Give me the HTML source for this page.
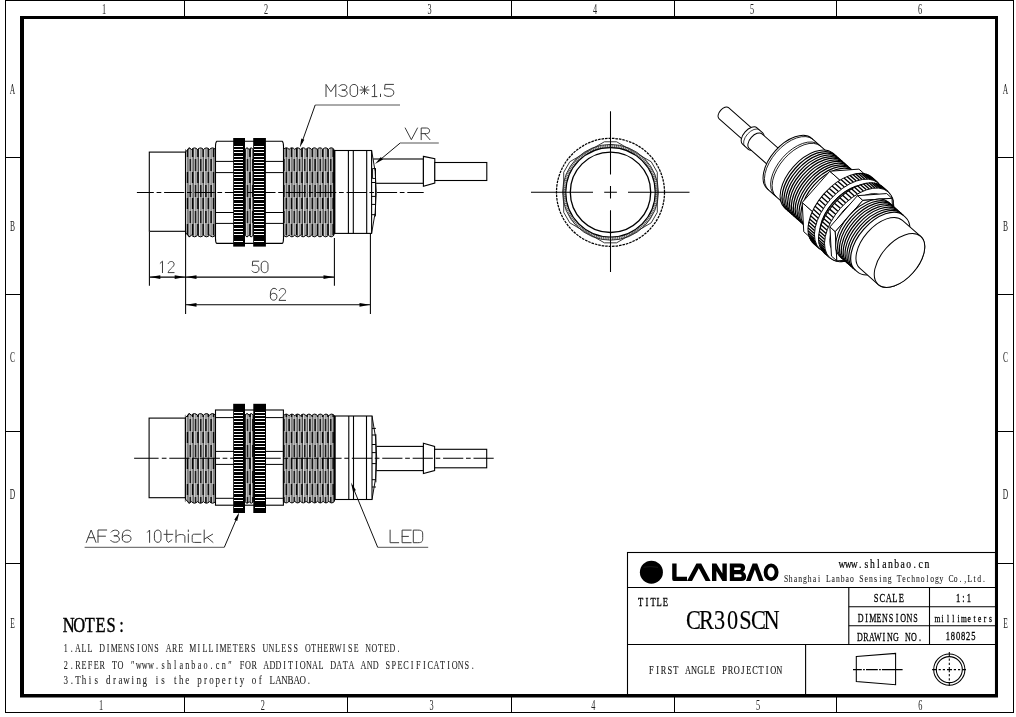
<!DOCTYPE html>
<html><head><meta charset="utf-8"><style>
html,body{margin:0;padding:0;background:#fff;width:1016px;height:717px;overflow:hidden}
svg{display:block;filter:grayscale(1)}
</style></head><body>
<svg width="1016" height="717" viewBox="0 0 1016 717">
<defs><pattern id="thr" patternUnits="userSpaceOnUse" width="5.2" height="26" x="0.5" y="3">
<rect width="5.2" height="26" fill="#939393"/>
<rect x="0" y="0" width="0.7" height="26" fill="#3a3a3a"/>
<rect x="1.0" y="0" width="0.8" height="26" fill="#fafafa"/>
<rect x="3.5" y="0" width="0.6" height="26" fill="#e6e6e6"/>
<rect x="1.9" y="0" width="1.4" height="12" fill="#000"/>
<rect x="4.2" y="13" width="1.0" height="11" fill="#050505"/>
<rect x="0" y="13" width="0.6" height="11" fill="#050505"/>
</pattern></defs>
<rect width="1016" height="717" fill="#fff"/>
<rect x="5.5" y="0.5" width="1008" height="712" fill="none" stroke="#000" stroke-width="1" />
<path d="M20 16 H998 V697.6 H20 Z M24 19 V694 H995 V19 Z" fill="#000" fill-rule="evenodd"/>
<line x1="184.5" y1="0" x2="184.5" y2="16" stroke="#000" stroke-width="1" />
<line x1="184.5" y1="697" x2="184.5" y2="712" stroke="#000" stroke-width="1" />
<line x1="347.5" y1="0" x2="347.5" y2="16" stroke="#000" stroke-width="1" />
<line x1="347.5" y1="697" x2="347.5" y2="712" stroke="#000" stroke-width="1" />
<line x1="511.5" y1="0" x2="511.5" y2="16" stroke="#000" stroke-width="1" />
<line x1="511.5" y1="697" x2="511.5" y2="712" stroke="#000" stroke-width="1" />
<line x1="674.5" y1="0" x2="674.5" y2="16" stroke="#000" stroke-width="1" />
<line x1="674.5" y1="697" x2="674.5" y2="712" stroke="#000" stroke-width="1" />
<line x1="836.5" y1="0" x2="836.5" y2="16" stroke="#000" stroke-width="1" />
<line x1="836.5" y1="697" x2="836.5" y2="712" stroke="#000" stroke-width="1" />
<line x1="5" y1="157.5" x2="20" y2="157.5" stroke="#000" stroke-width="1" />
<line x1="998" y1="157.5" x2="1013" y2="157.5" stroke="#000" stroke-width="1" />
<line x1="5" y1="294.5" x2="20" y2="294.5" stroke="#000" stroke-width="1" />
<line x1="998" y1="294.5" x2="1013" y2="294.5" stroke="#000" stroke-width="1" />
<line x1="5" y1="431.5" x2="20" y2="431.5" stroke="#000" stroke-width="1" />
<line x1="998" y1="431.5" x2="1013" y2="431.5" stroke="#000" stroke-width="1" />
<line x1="5" y1="563.5" x2="20" y2="563.5" stroke="#000" stroke-width="1" />
<line x1="998" y1="563.5" x2="1013" y2="563.5" stroke="#000" stroke-width="1" />
<text x="104" y="14" font-family="Liberation Serif" font-size="15" fill="#222" text-anchor="middle" transform-origin="104 14" style="transform:scaleX(0.55)">1</text>
<text x="266" y="14" font-family="Liberation Serif" font-size="15" fill="#222" text-anchor="middle" transform-origin="266 14" style="transform:scaleX(0.55)">2</text>
<text x="429.5" y="14" font-family="Liberation Serif" font-size="15" fill="#222" text-anchor="middle" transform-origin="429.5 14" style="transform:scaleX(0.55)">3</text>
<text x="595" y="14" font-family="Liberation Serif" font-size="15" fill="#222" text-anchor="middle" transform-origin="595 14" style="transform:scaleX(0.55)">4</text>
<text x="752" y="14" font-family="Liberation Serif" font-size="15" fill="#222" text-anchor="middle" transform-origin="752 14" style="transform:scaleX(0.55)">5</text>
<text x="920" y="14" font-family="Liberation Serif" font-size="15" fill="#222" text-anchor="middle" transform-origin="920 14" style="transform:scaleX(0.55)">6</text>
<text x="101" y="710" font-family="Liberation Serif" font-size="15" fill="#222" text-anchor="middle" transform-origin="101 710" style="transform:scaleX(0.55)">1</text>
<text x="262.7" y="710" font-family="Liberation Serif" font-size="15" fill="#222" text-anchor="middle" transform-origin="262.7 710" style="transform:scaleX(0.55)">2</text>
<text x="431.6" y="710" font-family="Liberation Serif" font-size="15" fill="#222" text-anchor="middle" transform-origin="431.6 710" style="transform:scaleX(0.55)">3</text>
<text x="593.4" y="710" font-family="Liberation Serif" font-size="15" fill="#222" text-anchor="middle" transform-origin="593.4 710" style="transform:scaleX(0.55)">4</text>
<text x="758" y="710" font-family="Liberation Serif" font-size="15" fill="#222" text-anchor="middle" transform-origin="758 710" style="transform:scaleX(0.55)">5</text>
<text x="920.2" y="710" font-family="Liberation Serif" font-size="15" fill="#222" text-anchor="middle" transform-origin="920.2 710" style="transform:scaleX(0.55)">6</text>
<text x="12.5" y="94" font-family="Liberation Serif" font-size="15" fill="#222" text-anchor="middle" style="transform:scaleX(0.5)" transform-origin="12.5 89">A</text>
<text x="1005.5" y="94" font-family="Liberation Serif" font-size="15" fill="#222" text-anchor="middle" style="transform:scaleX(0.5)" transform-origin="1005.5 89">A</text>
<text x="12.5" y="231" font-family="Liberation Serif" font-size="15" fill="#222" text-anchor="middle" style="transform:scaleX(0.5)" transform-origin="12.5 226">B</text>
<text x="1005.5" y="231" font-family="Liberation Serif" font-size="15" fill="#222" text-anchor="middle" style="transform:scaleX(0.5)" transform-origin="1005.5 226">B</text>
<text x="12.5" y="362" font-family="Liberation Serif" font-size="15" fill="#222" text-anchor="middle" style="transform:scaleX(0.5)" transform-origin="12.5 357">C</text>
<text x="1005.5" y="362" font-family="Liberation Serif" font-size="15" fill="#222" text-anchor="middle" style="transform:scaleX(0.5)" transform-origin="1005.5 357">C</text>
<text x="12.5" y="499" font-family="Liberation Serif" font-size="15" fill="#222" text-anchor="middle" style="transform:scaleX(0.5)" transform-origin="12.5 494">D</text>
<text x="1005.5" y="499" font-family="Liberation Serif" font-size="15" fill="#222" text-anchor="middle" style="transform:scaleX(0.5)" transform-origin="1005.5 494">D</text>
<text x="12.5" y="628" font-family="Liberation Serif" font-size="15" fill="#222" text-anchor="middle" style="transform:scaleX(0.5)" transform-origin="12.5 623">E</text>
<text x="1005.5" y="628" font-family="Liberation Serif" font-size="15" fill="#222" text-anchor="middle" style="transform:scaleX(0.5)" transform-origin="1005.5 623">E</text>
<rect x="149.3" y="152.1" width="36.2" height="79.2" fill="#fff" stroke="#000" stroke-width="1.1" />
<path d="M185.5 149.5 Q188.5 146.3 191.5 149.5 Q194.5 146.3 197.5 149.5 Q200.5 146.3 203.5 149.5 Q206.5 146.3 209.5 149.5 Q212.5 146.3 215.5 149.5 L215.5 235.2 Q212.5 238.4 209.5 235.2 Q206.5 238.4 203.5 235.2 Q200.5 238.4 197.5 235.2 Q194.5 238.4 191.5 235.2 Q188.5 238.4 185.5 235.2 Z" fill="url(#thr)" stroke="#000" stroke-width="1.0" />
<path d="M185.2 146 H189.7 L185.7 151.7 Z M185.2 238.7 H189.7 L185.7 233 Z" fill="#fff" stroke="none" stroke-width="0" />
<path d="M189.7 147.8 L185.7 151.7 M189.7 236.9 L185.7 233" fill="none" stroke="#000" stroke-width="1" />
<path d="M216.7 141.3 H282.3 Q283.5 142.3 283.5 146.3 V238.4 Q283.5 242.4 282.3 243.4 H216.7 Q215.5 242.4 215.5 238.4 V146.3 Q215.5 142.3 216.7 141.3 Z" fill="#fff" stroke="#000" stroke-width="1.1" />
<line x1="216" y1="161.4" x2="283" y2="161.4" stroke="#000" stroke-width="1" />
<line x1="216" y1="172.6" x2="283" y2="172.6" stroke="#000" stroke-width="1" />
<line x1="216" y1="212.5" x2="283" y2="212.5" stroke="#000" stroke-width="1" />
<line x1="216" y1="223.4" x2="283" y2="223.4" stroke="#000" stroke-width="1" />
<path d="M245 149.5 Q247.05 146.3 249.1 149.5 Q251.15 146.3 253.2 149.5 L253.2 235.2 Q251.15 238.4 249.1 235.2 Q247.05 238.4 245 235.2 Z" fill="url(#thr)" stroke="#000" stroke-width="1.0" />
<rect x="233.2" y="138" width="11.8" height="108.6" fill="#000" stroke="none" stroke-width="0" />
<rect x="234" y="146" width="9" height="1.1" fill="#fff" stroke="none" stroke-width="0" shape-rendering="crispEdges"/>
<rect x="234" y="149" width="9" height="1.1" fill="#fff" stroke="none" stroke-width="0" shape-rendering="crispEdges"/>
<rect x="234" y="152" width="9" height="1.1" fill="#fff" stroke="none" stroke-width="0" shape-rendering="crispEdges"/>
<rect x="234" y="156" width="9" height="1.1" fill="#fff" stroke="none" stroke-width="0" shape-rendering="crispEdges"/>
<rect x="234" y="159" width="9" height="1.1" fill="#fff" stroke="none" stroke-width="0" shape-rendering="crispEdges"/>
<rect x="234" y="162" width="9" height="1.1" fill="#fff" stroke="none" stroke-width="0" shape-rendering="crispEdges"/>
<rect x="234" y="165" width="9" height="1.1" fill="#fff" stroke="none" stroke-width="0" shape-rendering="crispEdges"/>
<rect x="234" y="168" width="9" height="1.1" fill="#fff" stroke="none" stroke-width="0" shape-rendering="crispEdges"/>
<rect x="234" y="171" width="9" height="1.1" fill="#fff" stroke="none" stroke-width="0" shape-rendering="crispEdges"/>
<rect x="234" y="174" width="9" height="1.1" fill="#fff" stroke="none" stroke-width="0" shape-rendering="crispEdges"/>
<rect x="234" y="177" width="9" height="1.1" fill="#fff" stroke="none" stroke-width="0" shape-rendering="crispEdges"/>
<rect x="234" y="181" width="9" height="1.1" fill="#fff" stroke="none" stroke-width="0" shape-rendering="crispEdges"/>
<rect x="234" y="184" width="9" height="1.1" fill="#fff" stroke="none" stroke-width="0" shape-rendering="crispEdges"/>
<rect x="234" y="187" width="9" height="1.1" fill="#fff" stroke="none" stroke-width="0" shape-rendering="crispEdges"/>
<rect x="234" y="190" width="9" height="1.1" fill="#fff" stroke="none" stroke-width="0" shape-rendering="crispEdges"/>
<rect x="234" y="193" width="9" height="1.1" fill="#fff" stroke="none" stroke-width="0" shape-rendering="crispEdges"/>
<rect x="234" y="196" width="9" height="1.1" fill="#fff" stroke="none" stroke-width="0" shape-rendering="crispEdges"/>
<rect x="234" y="199" width="9" height="1.1" fill="#fff" stroke="none" stroke-width="0" shape-rendering="crispEdges"/>
<rect x="234" y="203" width="9" height="1.1" fill="#fff" stroke="none" stroke-width="0" shape-rendering="crispEdges"/>
<rect x="234" y="206" width="9" height="1.1" fill="#fff" stroke="none" stroke-width="0" shape-rendering="crispEdges"/>
<rect x="234" y="209" width="9" height="1.1" fill="#fff" stroke="none" stroke-width="0" shape-rendering="crispEdges"/>
<rect x="234" y="212" width="9" height="1.1" fill="#fff" stroke="none" stroke-width="0" shape-rendering="crispEdges"/>
<rect x="234" y="215" width="9" height="1.1" fill="#fff" stroke="none" stroke-width="0" shape-rendering="crispEdges"/>
<rect x="234" y="218" width="9" height="1.1" fill="#fff" stroke="none" stroke-width="0" shape-rendering="crispEdges"/>
<rect x="234" y="221" width="9" height="1.1" fill="#fff" stroke="none" stroke-width="0" shape-rendering="crispEdges"/>
<rect x="234" y="224" width="9" height="1.1" fill="#fff" stroke="none" stroke-width="0" shape-rendering="crispEdges"/>
<rect x="234" y="228" width="9" height="1.1" fill="#fff" stroke="none" stroke-width="0" shape-rendering="crispEdges"/>
<rect x="234" y="231" width="9" height="1.1" fill="#fff" stroke="none" stroke-width="0" shape-rendering="crispEdges"/>
<rect x="234" y="234" width="9" height="1.1" fill="#fff" stroke="none" stroke-width="0" shape-rendering="crispEdges"/>
<rect x="234" y="241" width="9" height="1.1" fill="#fff" stroke="none" stroke-width="0" shape-rendering="crispEdges"/>
<rect x="253.2" y="138" width="12.7" height="108.6" fill="#000" stroke="none" stroke-width="0" />
<rect x="254" y="146" width="10" height="1.1" fill="#fff" stroke="none" stroke-width="0" shape-rendering="crispEdges"/>
<rect x="254" y="149" width="10" height="1.1" fill="#fff" stroke="none" stroke-width="0" shape-rendering="crispEdges"/>
<rect x="254" y="152" width="10" height="1.1" fill="#fff" stroke="none" stroke-width="0" shape-rendering="crispEdges"/>
<rect x="254" y="156" width="10" height="1.1" fill="#fff" stroke="none" stroke-width="0" shape-rendering="crispEdges"/>
<rect x="254" y="159" width="10" height="1.1" fill="#fff" stroke="none" stroke-width="0" shape-rendering="crispEdges"/>
<rect x="254" y="162" width="10" height="1.1" fill="#fff" stroke="none" stroke-width="0" shape-rendering="crispEdges"/>
<rect x="254" y="165" width="10" height="1.1" fill="#fff" stroke="none" stroke-width="0" shape-rendering="crispEdges"/>
<rect x="254" y="168" width="10" height="1.1" fill="#fff" stroke="none" stroke-width="0" shape-rendering="crispEdges"/>
<rect x="254" y="171" width="10" height="1.1" fill="#fff" stroke="none" stroke-width="0" shape-rendering="crispEdges"/>
<rect x="254" y="174" width="10" height="1.1" fill="#fff" stroke="none" stroke-width="0" shape-rendering="crispEdges"/>
<rect x="254" y="177" width="10" height="1.1" fill="#fff" stroke="none" stroke-width="0" shape-rendering="crispEdges"/>
<rect x="254" y="181" width="10" height="1.1" fill="#fff" stroke="none" stroke-width="0" shape-rendering="crispEdges"/>
<rect x="254" y="184" width="10" height="1.1" fill="#fff" stroke="none" stroke-width="0" shape-rendering="crispEdges"/>
<rect x="254" y="187" width="10" height="1.1" fill="#fff" stroke="none" stroke-width="0" shape-rendering="crispEdges"/>
<rect x="254" y="190" width="10" height="1.1" fill="#fff" stroke="none" stroke-width="0" shape-rendering="crispEdges"/>
<rect x="254" y="193" width="10" height="1.1" fill="#fff" stroke="none" stroke-width="0" shape-rendering="crispEdges"/>
<rect x="254" y="196" width="10" height="1.1" fill="#fff" stroke="none" stroke-width="0" shape-rendering="crispEdges"/>
<rect x="254" y="199" width="10" height="1.1" fill="#fff" stroke="none" stroke-width="0" shape-rendering="crispEdges"/>
<rect x="254" y="203" width="10" height="1.1" fill="#fff" stroke="none" stroke-width="0" shape-rendering="crispEdges"/>
<rect x="254" y="206" width="10" height="1.1" fill="#fff" stroke="none" stroke-width="0" shape-rendering="crispEdges"/>
<rect x="254" y="209" width="10" height="1.1" fill="#fff" stroke="none" stroke-width="0" shape-rendering="crispEdges"/>
<rect x="254" y="212" width="10" height="1.1" fill="#fff" stroke="none" stroke-width="0" shape-rendering="crispEdges"/>
<rect x="254" y="215" width="10" height="1.1" fill="#fff" stroke="none" stroke-width="0" shape-rendering="crispEdges"/>
<rect x="254" y="218" width="10" height="1.1" fill="#fff" stroke="none" stroke-width="0" shape-rendering="crispEdges"/>
<rect x="254" y="221" width="10" height="1.1" fill="#fff" stroke="none" stroke-width="0" shape-rendering="crispEdges"/>
<rect x="254" y="224" width="10" height="1.1" fill="#fff" stroke="none" stroke-width="0" shape-rendering="crispEdges"/>
<rect x="254" y="228" width="10" height="1.1" fill="#fff" stroke="none" stroke-width="0" shape-rendering="crispEdges"/>
<rect x="254" y="231" width="10" height="1.1" fill="#fff" stroke="none" stroke-width="0" shape-rendering="crispEdges"/>
<rect x="254" y="234" width="10" height="1.1" fill="#fff" stroke="none" stroke-width="0" shape-rendering="crispEdges"/>
<rect x="254" y="241" width="10" height="1.1" fill="#fff" stroke="none" stroke-width="0" shape-rendering="crispEdges"/>
<path d="M283.5 149.4 Q286.31 146.2 289.11 149.4 Q291.92 146.2 294.72 149.4 Q297.53 146.2 300.33 149.4 Q303.14 146.2 305.94 149.4 Q308.75 146.2 311.56 149.4 Q314.36 146.2 317.17 149.4 Q319.97 146.2 322.78 149.4 Q325.58 146.2 328.39 149.4 Q331.19 146.2 334 149.4 L334 235.2 Q331.19 238.4 328.39 235.2 Q325.58 238.4 322.78 235.2 Q319.97 238.4 317.17 235.2 Q314.36 238.4 311.56 235.2 Q308.75 238.4 305.94 235.2 Q303.14 238.4 300.33 235.2 Q297.53 238.4 294.72 235.2 Q291.92 238.4 289.11 235.2 Q286.31 238.4 283.5 235.2 Z" fill="url(#thr)" stroke="#000" stroke-width="1.0" />
<rect x="373" y="159" width="50.4" height="24.3" fill="#fff" stroke="#000" stroke-width="1.1" />
<path d="M423.4 156.4 L434.8 158.8 L434.8 183 L423.4 186.3 Z" fill="#fff" stroke="#000" stroke-width="1.1" />
<rect x="434.8" y="162.5" width="52" height="18" fill="#fff" stroke="#000" stroke-width="1.1" />
<path d="M371.6 150.5 Q381 192.4 371.6 233.4" fill="#fff" stroke="#111" stroke-width="1" />
<path d="M371.6 182.5 H375.5 M371.6 196.4 H375.5 M371.6 204.4 H375.5 M371.6 214.7 H375.5" fill="none" stroke="#000" stroke-width="1" />
<rect x="372.6" y="168.6" width="2.9" height="9.8" fill="none" stroke="#000" stroke-width="0.9" />
<path d="M375.5 168.4 V216.4" fill="none" stroke="#000" stroke-width="0.9" />
<rect x="334.2" y="150.5" width="37.4" height="82.9" fill="#fff" stroke="#000" stroke-width="1.1" />
<line x1="334.5" y1="150.5" x2="334.5" y2="233.4" stroke="#000" stroke-width="1.8" />
<line x1="348.4" y1="150.5" x2="348.4" y2="233.4" stroke="#000" stroke-width="1.1" />
<line x1="353.3" y1="150.5" x2="353.3" y2="233.4" stroke="#000" stroke-width="1.1" />
<line x1="366.7" y1="150.5" x2="366.7" y2="233.4" stroke="#000" stroke-width="1.1" />
<path d="M136.9 192.4 H153.8 M156.6 192.4 H161.3 M164.1 192.4 H184.3 M187 192.4 H191.7 M194.5 192.4 H214.7 M217.4 192.4 H222.1 M224.9 192.4 H245.1 M247.8 192.4 H252.5 M255.3 192.4 H275.5 M278.2 192.4 H282.9 M285.7 192.4 H305.9 M308.6 192.4 H313.3 M316.1 192.4 H336.3 M339 192.4 H343.7 M346.5 192.4 H366.7 M369.4 192.4 H374.1 M376.9 192.4 H397.1 M399.8 192.4 H404.5 M407.3 192.4 H423.7" fill="none" stroke="#000" stroke-width="1.05" />
<rect x="149.1" y="418.1" width="36.3" height="79.6" fill="#fff" stroke="#000" stroke-width="1.1" />
<path d="M185.4 415.2 Q188.41 412 191.42 415.2 Q194.43 412 197.44 415.2 Q200.45 412 203.46 415.2 Q206.47 412 209.48 415.2 Q212.49 412 215.5 415.2 L215.5 501.6 Q212.49 504.8 209.48 501.6 Q206.47 504.8 203.46 501.6 Q200.45 504.8 197.44 501.6 Q194.43 504.8 191.42 501.6 Q188.41 504.8 185.4 501.6 Z" fill="url(#thr)" stroke="#000" stroke-width="1.0" />
<path d="M185.1 411.7 H189.6 L185.6 417.4 Z M185.1 505.1 H189.6 L185.6 499.4 Z" fill="#fff" stroke="none" stroke-width="0" />
<path d="M189.6 413.5 L185.6 417.4 M189.6 503.3 L185.6 499.4" fill="none" stroke="#000" stroke-width="1" />
<rect x="215.5" y="410" width="67.9" height="95.2" fill="#fff" stroke="#000" stroke-width="1.1" />
<line x1="216" y1="417.6" x2="282.9" y2="417.6" stroke="#000" stroke-width="1" />
<line x1="216" y1="451.4" x2="282.9" y2="451.4" stroke="#000" stroke-width="1" />
<line x1="216" y1="464.4" x2="282.9" y2="464.4" stroke="#000" stroke-width="1" />
<line x1="216" y1="498.3" x2="282.9" y2="498.3" stroke="#000" stroke-width="1" />
<path d="M245 415.2 Q247.07 412 249.15 415.2 Q251.23 412 253.3 415.2 L253.3 501.6 Q251.23 504.8 249.15 501.6 Q247.07 504.8 245 501.6 Z" fill="url(#thr)" stroke="#000" stroke-width="1.0" />
<rect x="233.2" y="403.8" width="11.8" height="109.2" fill="#000" stroke="none" stroke-width="0" />
<rect x="234" y="412" width="9" height="1.1" fill="#fff" stroke="none" stroke-width="0" shape-rendering="crispEdges"/>
<rect x="234" y="415" width="9" height="1.1" fill="#fff" stroke="none" stroke-width="0" shape-rendering="crispEdges"/>
<rect x="234" y="418" width="9" height="1.1" fill="#fff" stroke="none" stroke-width="0" shape-rendering="crispEdges"/>
<rect x="234" y="421" width="9" height="1.1" fill="#fff" stroke="none" stroke-width="0" shape-rendering="crispEdges"/>
<rect x="234" y="425" width="9" height="1.1" fill="#fff" stroke="none" stroke-width="0" shape-rendering="crispEdges"/>
<rect x="234" y="428" width="9" height="1.1" fill="#fff" stroke="none" stroke-width="0" shape-rendering="crispEdges"/>
<rect x="234" y="431" width="9" height="1.1" fill="#fff" stroke="none" stroke-width="0" shape-rendering="crispEdges"/>
<rect x="234" y="434" width="9" height="1.1" fill="#fff" stroke="none" stroke-width="0" shape-rendering="crispEdges"/>
<rect x="234" y="437" width="9" height="1.1" fill="#fff" stroke="none" stroke-width="0" shape-rendering="crispEdges"/>
<rect x="234" y="440" width="9" height="1.1" fill="#fff" stroke="none" stroke-width="0" shape-rendering="crispEdges"/>
<rect x="234" y="443" width="9" height="1.1" fill="#fff" stroke="none" stroke-width="0" shape-rendering="crispEdges"/>
<rect x="234" y="446" width="9" height="1.1" fill="#fff" stroke="none" stroke-width="0" shape-rendering="crispEdges"/>
<rect x="234" y="450" width="9" height="1.1" fill="#fff" stroke="none" stroke-width="0" shape-rendering="crispEdges"/>
<rect x="234" y="453" width="9" height="1.1" fill="#fff" stroke="none" stroke-width="0" shape-rendering="crispEdges"/>
<rect x="234" y="456" width="9" height="1.1" fill="#fff" stroke="none" stroke-width="0" shape-rendering="crispEdges"/>
<rect x="234" y="459" width="9" height="1.1" fill="#fff" stroke="none" stroke-width="0" shape-rendering="crispEdges"/>
<rect x="234" y="462" width="9" height="1.1" fill="#fff" stroke="none" stroke-width="0" shape-rendering="crispEdges"/>
<rect x="234" y="465" width="9" height="1.1" fill="#fff" stroke="none" stroke-width="0" shape-rendering="crispEdges"/>
<rect x="234" y="468" width="9" height="1.1" fill="#fff" stroke="none" stroke-width="0" shape-rendering="crispEdges"/>
<rect x="234" y="471" width="9" height="1.1" fill="#fff" stroke="none" stroke-width="0" shape-rendering="crispEdges"/>
<rect x="234" y="475" width="9" height="1.1" fill="#fff" stroke="none" stroke-width="0" shape-rendering="crispEdges"/>
<rect x="234" y="478" width="9" height="1.1" fill="#fff" stroke="none" stroke-width="0" shape-rendering="crispEdges"/>
<rect x="234" y="481" width="9" height="1.1" fill="#fff" stroke="none" stroke-width="0" shape-rendering="crispEdges"/>
<rect x="234" y="484" width="9" height="1.1" fill="#fff" stroke="none" stroke-width="0" shape-rendering="crispEdges"/>
<rect x="234" y="487" width="9" height="1.1" fill="#fff" stroke="none" stroke-width="0" shape-rendering="crispEdges"/>
<rect x="234" y="490" width="9" height="1.1" fill="#fff" stroke="none" stroke-width="0" shape-rendering="crispEdges"/>
<rect x="234" y="493" width="9" height="1.1" fill="#fff" stroke="none" stroke-width="0" shape-rendering="crispEdges"/>
<rect x="234" y="497" width="9" height="1.1" fill="#fff" stroke="none" stroke-width="0" shape-rendering="crispEdges"/>
<rect x="234" y="500" width="9" height="1.1" fill="#fff" stroke="none" stroke-width="0" shape-rendering="crispEdges"/>
<rect x="234" y="507" width="9" height="1.1" fill="#fff" stroke="none" stroke-width="0" shape-rendering="crispEdges"/>
<rect x="253.3" y="403.8" width="12.7" height="109.2" fill="#000" stroke="none" stroke-width="0" />
<rect x="255" y="412" width="10" height="1.1" fill="#fff" stroke="none" stroke-width="0" shape-rendering="crispEdges"/>
<rect x="255" y="415" width="10" height="1.1" fill="#fff" stroke="none" stroke-width="0" shape-rendering="crispEdges"/>
<rect x="255" y="418" width="10" height="1.1" fill="#fff" stroke="none" stroke-width="0" shape-rendering="crispEdges"/>
<rect x="255" y="421" width="10" height="1.1" fill="#fff" stroke="none" stroke-width="0" shape-rendering="crispEdges"/>
<rect x="255" y="425" width="10" height="1.1" fill="#fff" stroke="none" stroke-width="0" shape-rendering="crispEdges"/>
<rect x="255" y="428" width="10" height="1.1" fill="#fff" stroke="none" stroke-width="0" shape-rendering="crispEdges"/>
<rect x="255" y="431" width="10" height="1.1" fill="#fff" stroke="none" stroke-width="0" shape-rendering="crispEdges"/>
<rect x="255" y="434" width="10" height="1.1" fill="#fff" stroke="none" stroke-width="0" shape-rendering="crispEdges"/>
<rect x="255" y="437" width="10" height="1.1" fill="#fff" stroke="none" stroke-width="0" shape-rendering="crispEdges"/>
<rect x="255" y="440" width="10" height="1.1" fill="#fff" stroke="none" stroke-width="0" shape-rendering="crispEdges"/>
<rect x="255" y="443" width="10" height="1.1" fill="#fff" stroke="none" stroke-width="0" shape-rendering="crispEdges"/>
<rect x="255" y="446" width="10" height="1.1" fill="#fff" stroke="none" stroke-width="0" shape-rendering="crispEdges"/>
<rect x="255" y="450" width="10" height="1.1" fill="#fff" stroke="none" stroke-width="0" shape-rendering="crispEdges"/>
<rect x="255" y="453" width="10" height="1.1" fill="#fff" stroke="none" stroke-width="0" shape-rendering="crispEdges"/>
<rect x="255" y="456" width="10" height="1.1" fill="#fff" stroke="none" stroke-width="0" shape-rendering="crispEdges"/>
<rect x="255" y="459" width="10" height="1.1" fill="#fff" stroke="none" stroke-width="0" shape-rendering="crispEdges"/>
<rect x="255" y="462" width="10" height="1.1" fill="#fff" stroke="none" stroke-width="0" shape-rendering="crispEdges"/>
<rect x="255" y="465" width="10" height="1.1" fill="#fff" stroke="none" stroke-width="0" shape-rendering="crispEdges"/>
<rect x="255" y="468" width="10" height="1.1" fill="#fff" stroke="none" stroke-width="0" shape-rendering="crispEdges"/>
<rect x="255" y="471" width="10" height="1.1" fill="#fff" stroke="none" stroke-width="0" shape-rendering="crispEdges"/>
<rect x="255" y="475" width="10" height="1.1" fill="#fff" stroke="none" stroke-width="0" shape-rendering="crispEdges"/>
<rect x="255" y="478" width="10" height="1.1" fill="#fff" stroke="none" stroke-width="0" shape-rendering="crispEdges"/>
<rect x="255" y="481" width="10" height="1.1" fill="#fff" stroke="none" stroke-width="0" shape-rendering="crispEdges"/>
<rect x="255" y="484" width="10" height="1.1" fill="#fff" stroke="none" stroke-width="0" shape-rendering="crispEdges"/>
<rect x="255" y="487" width="10" height="1.1" fill="#fff" stroke="none" stroke-width="0" shape-rendering="crispEdges"/>
<rect x="255" y="490" width="10" height="1.1" fill="#fff" stroke="none" stroke-width="0" shape-rendering="crispEdges"/>
<rect x="255" y="493" width="10" height="1.1" fill="#fff" stroke="none" stroke-width="0" shape-rendering="crispEdges"/>
<rect x="255" y="497" width="10" height="1.1" fill="#fff" stroke="none" stroke-width="0" shape-rendering="crispEdges"/>
<rect x="255" y="500" width="10" height="1.1" fill="#fff" stroke="none" stroke-width="0" shape-rendering="crispEdges"/>
<rect x="255" y="507" width="10" height="1.1" fill="#fff" stroke="none" stroke-width="0" shape-rendering="crispEdges"/>
<path d="M283.4 415.7 Q286.24 412.5 289.08 415.7 Q291.92 412.5 294.76 415.7 Q297.59 412.5 300.43 415.7 Q303.27 412.5 306.11 415.7 Q308.95 412.5 311.79 415.7 Q314.63 412.5 317.47 415.7 Q320.31 412.5 323.14 415.7 Q325.98 412.5 328.82 415.7 Q331.66 412.5 334.5 415.7 L334.5 501.3 Q331.66 504.5 328.82 501.3 Q325.98 504.5 323.14 501.3 Q320.31 504.5 317.47 501.3 Q314.63 504.5 311.79 501.3 Q308.95 504.5 306.11 501.3 Q303.27 504.5 300.43 501.3 Q297.59 504.5 294.76 501.3 Q291.92 504.5 289.08 501.3 Q286.24 504.5 283.4 501.3 Z" fill="url(#thr)" stroke="#000" stroke-width="1.0" />
<rect x="376" y="446.4" width="47.4" height="24.2" fill="#fff" stroke="#000" stroke-width="1.1" />
<path d="M423.4 443.3 L434.6 446.4 L434.6 470.6 L423.4 473.5 Z" fill="#fff" stroke="#000" stroke-width="1.1" />
<rect x="434.6" y="449.3" width="52.1" height="18.5" fill="#fff" stroke="#000" stroke-width="1.1" />
<path d="M372 416 Q381.4 458.3 372 499.5" fill="#fff" stroke="#111" stroke-width="1" />
<path d="M372 428.4 H375.9 M372 435 H375.9 M372 444.5 H375.9 M372 452.6 H375.9 M372 463.6 H375.9 M372 479.7 H375.9 M372 487 H375.9" fill="none" stroke="#000" stroke-width="1" />
<path d="M375.9 434.3 V482.3" fill="none" stroke="#000" stroke-width="0.9" />
<rect x="334.5" y="416" width="37.5" height="83.5" fill="#fff" stroke="#000" stroke-width="1.1" />
<line x1="334.8" y1="416" x2="334.8" y2="499.5" stroke="#000" stroke-width="1.8" />
<line x1="348.8" y1="416" x2="348.8" y2="499.5" stroke="#000" stroke-width="1.1" />
<line x1="353.5" y1="416" x2="353.5" y2="499.5" stroke="#000" stroke-width="1.1" />
<line x1="366.5" y1="416" x2="366.5" y2="499.5" stroke="#000" stroke-width="1.1" />
<path d="M134.1 458.3 H158.6 M161.8 458.3 H166.5 M169.3 458.3 H189.5 M192.22 458.3 H196.92 M199.72 458.3 H219.92 M222.64 458.3 H227.34 M230.14 458.3 H250.34 M253.06 458.3 H257.76 M260.56 458.3 H280.76 M283.48 458.3 H288.18 M290.98 458.3 H311.18 M313.9 458.3 H318.6 M321.4 458.3 H341.6 M344.32 458.3 H349.02 M351.82 458.3 H372.02 M374.74 458.3 H379.44 M382.24 458.3 H402.44 M405.16 458.3 H409.86 M412.66 458.3 H432.86 M435.58 458.3 H440.28 M443.08 458.3 H463.28 M466 458.3 H470.7 M473.5 458.3 H493.7" fill="none" stroke="#000" stroke-width="1.05" />
<line x1="149.4" y1="232" x2="149.4" y2="285.7" stroke="#000" stroke-width="1.05" />
<line x1="185.6" y1="231" x2="185.6" y2="314" stroke="#000" stroke-width="1.05" />
<line x1="334.4" y1="238" x2="334.4" y2="285.7" stroke="#000" stroke-width="1.05" />
<line x1="370.4" y1="234" x2="370.4" y2="314" stroke="#000" stroke-width="1.05" />
<line x1="150" y1="277.1" x2="334" y2="277.1" stroke="#000" stroke-width="1.05" />
<path d="M149.8 277.1 L160.3 275.2 L160.3 279 Z" fill="#000" stroke="none" stroke-width="0" />
<path d="M185.2 277.1 L174.7 279 L174.7 275.2 Z" fill="#000" stroke="none" stroke-width="0" />
<path d="M186 277.1 L196.5 275.2 L196.5 279 Z" fill="#000" stroke="none" stroke-width="0" />
<path d="M334 277.1 L323.5 279 L323.5 275.2 Z" fill="#000" stroke="none" stroke-width="0" />
<line x1="186" y1="304.8" x2="370" y2="304.8" stroke="#000" stroke-width="1.05" />
<path d="M186 304.8 L196.5 302.9 L196.5 306.7 Z" fill="#000" stroke="none" stroke-width="0" />
<path d="M370 304.8 L359.5 306.7 L359.5 302.9 Z" fill="#000" stroke="none" stroke-width="0" />
<g fill="none" stroke="#3c3c3c" stroke-width="1.0" stroke-linecap="round" stroke-linejoin="round">
<path vector-effect="non-scaling-stroke" transform="translate(160.20,261.20) scale(11.400,11.400)" d="M0,0.18 L0.2,0 V1"/>
<path vector-effect="non-scaling-stroke" transform="translate(168.00,261.20) scale(10.893,11.400)" d="M0.02,0.2 C0.1,-0.05 0.56,-0.05 0.56,0.27 C0.56,0.5 0.1,0.7 0,1 H0.56"/>
</g>
<g fill="none" stroke="#3c3c3c" stroke-width="1.0" stroke-linecap="round" stroke-linejoin="round">
<path vector-effect="non-scaling-stroke" transform="translate(252.00,261.20) scale(11.290,11.500)" d="M0.6,0 H0.06 L0.03,0.4 C0.2,0.32 0.62,0.3 0.62,0.68 C0.62,1.06 0.12,1.06 0,0.85"/>
<path vector-effect="non-scaling-stroke" transform="translate(261.20,261.20) scale(11.333,11.500)" d="M0,0.3 C0,-0.1 0.6,-0.1 0.6,0.3 V0.7 C0.6,1.1 0,1.1 0,0.7 Z"/>
</g>
<g fill="none" stroke="#3c3c3c" stroke-width="1.0" stroke-linecap="round" stroke-linejoin="round">
<path vector-effect="non-scaling-stroke" transform="translate(270.40,288.20) scale(11.207,12.200)" d="M0.55,0.1 C0.42,-0.06 0,-0.08 0,0.5 V0.7 C0,1.08 0.58,1.08 0.58,0.7 V0.66 C0.58,0.34 0,0.34 0,0.62"/>
<path vector-effect="non-scaling-stroke" transform="translate(279.00,288.20) scale(11.786,12.200)" d="M0.02,0.2 C0.1,-0.05 0.56,-0.05 0.56,0.27 C0.56,0.5 0.1,0.7 0,1 H0.56"/>
</g>
<line x1="315.2" y1="105" x2="400" y2="105" stroke="#555" stroke-width="1" />
<line x1="315.2" y1="105" x2="301.5" y2="143.5" stroke="#111" stroke-width="1" />
<path d="M299.8 147.6 L301.31 138.58 L304.32 139.66 Z" fill="#000" stroke="none" stroke-width="0" />
<g fill="none" stroke="#3c3c3c" stroke-width="1.0" stroke-linecap="round" stroke-linejoin="round">
<path vector-effect="non-scaling-stroke" transform="translate(326.00,84.40) scale(12.250,12.200)" d="M0,1 V0 L0.4,0.6 L0.8,0 V1"/>
<path vector-effect="non-scaling-stroke" transform="translate(338.70,84.40) scale(14.167,12.200)" d="M0.03,0.17 C0.15,-0.05 0.57,-0.06 0.57,0.24 C0.57,0.42 0.4,0.47 0.22,0.47 C0.45,0.47 0.6,0.55 0.6,0.73 C0.6,1.06 0.12,1.06 0,0.83"/>
<path vector-effect="non-scaling-stroke" transform="translate(350.10,84.40) scale(12.500,12.200)" d="M0,0.3 C0,-0.1 0.6,-0.1 0.6,0.3 V0.7 C0.6,1.1 0,1.1 0,0.7 Z"/>
<path vector-effect="non-scaling-stroke" transform="translate(360.00,84.40) scale(12.500,12.200)" d="M0,0.46 H0.72 M0.36,0.14 V0.8 M0.1,0.18 L0.62,0.76 M0.62,0.18 L0.1,0.76"/>
<path vector-effect="non-scaling-stroke" transform="translate(372.10,84.40) scale(11.429,12.200)" d="M0.04,0.18 L0.22,0 V1 M0,1 H0.42"/>
<path vector-effect="non-scaling-stroke" transform="translate(379.90,84.40) scale(12.200,12.200)" d="M0.05,0.8 V1"/>
<path vector-effect="non-scaling-stroke" transform="translate(384.10,84.40) scale(15.645,12.200)" d="M0.6,0 H0.06 L0.03,0.4 C0.2,0.32 0.62,0.3 0.62,0.68 C0.62,1.06 0.12,1.06 0,0.85"/>
</g>
<line x1="400.2" y1="143" x2="438.8" y2="143" stroke="#555" stroke-width="1" />
<line x1="400.2" y1="143" x2="378" y2="161.5" stroke="#111" stroke-width="1" />
<path d="M375 164 L380.9 157.02 L382.94 159.48 Z" fill="#000" stroke="none" stroke-width="0" />
<g fill="none" stroke="#3c3c3c" stroke-width="1.0" stroke-linecap="round" stroke-linejoin="round">
<path vector-effect="non-scaling-stroke" transform="translate(405.20,128.00) scale(12.300,11.700)" d="M0,0 L0.5,1 L1,0"/>
<path vector-effect="non-scaling-stroke" transform="translate(421.20,128.00) scale(15.172,11.700)" d="M0,1 V0 H0.35 C0.62,0 0.62,0.48 0.35,0.48 H0 M0.22,0.48 L0.58,1"/>
</g>
<line x1="377.7" y1="547.3" x2="428.2" y2="547.3" stroke="#555" stroke-width="1" />
<line x1="377.7" y1="547.3" x2="352.2" y2="485.5" stroke="#111" stroke-width="1" />
<path d="M351 482.5 L355.9 490.22 L352.94 491.43 Z" fill="#000" stroke="none" stroke-width="0" />
<g fill="none" stroke="#3c3c3c" stroke-width="1.0" stroke-linecap="round" stroke-linejoin="round">
<path vector-effect="non-scaling-stroke" transform="translate(390.10,530.10) scale(13.871,12.600)" d="M0,0 V1 H0.62"/>
<path vector-effect="non-scaling-stroke" transform="translate(402.10,530.10) scale(13.788,12.600)" d="M0.66,0 H0 V1 H0.66 M0,0.5 H0.46"/>
<path vector-effect="non-scaling-stroke" transform="translate(413.70,530.10) scale(13.636,12.600)" d="M0,0 H0.3 C0.66,0 0.66,0.15 0.66,0.4 V0.6 C0.66,0.85 0.66,1 0.3,1 H0 Z"/>
</g>
<line x1="84.6" y1="547.3" x2="224.3" y2="547.3" stroke="#555" stroke-width="1" />
<line x1="224.3" y1="547.3" x2="237.9" y2="515.5" stroke="#111" stroke-width="1" />
<path d="M239.3 512.2 L237.23 521.1 L234.29 519.85 Z" fill="#000" stroke="none" stroke-width="0" />
<g fill="none" stroke="#3c3c3c" stroke-width="1.0" stroke-linecap="round" stroke-linejoin="round">
<path vector-effect="non-scaling-stroke" transform="translate(86.30,530.00) scale(12.436,12.400)" d="M0,1 L0.39,0 L0.78,1 M0.15,0.62 H0.63"/>
<path vector-effect="non-scaling-stroke" transform="translate(98.00,530.00) scale(12.429,12.400)" d="M0.7,0 H0 V1 M0,0.5 H0.6"/>
<path vector-effect="non-scaling-stroke" transform="translate(110.60,530.00) scale(14.667,12.400)" d="M0.03,0.17 C0.15,-0.05 0.57,-0.06 0.57,0.24 C0.57,0.42 0.4,0.47 0.22,0.47 C0.45,0.47 0.6,0.55 0.6,0.73 C0.6,1.06 0.12,1.06 0,0.83"/>
<path vector-effect="non-scaling-stroke" transform="translate(122.30,530.00) scale(15.000,12.400)" d="M0.55,0.1 C0.42,-0.06 0,-0.08 0,0.5 V0.7 C0,1.08 0.58,1.08 0.58,0.7 V0.66 C0.58,0.34 0,0.34 0,0.62"/>
<path vector-effect="non-scaling-stroke" transform="translate(147.50,530.00) scale(10.400,12.400)" d="M0,0.18 L0.2,0 V1"/>
<path vector-effect="non-scaling-stroke" transform="translate(154.40,530.00) scale(11.000,12.400)" d="M0,0.3 C0,-0.1 0.6,-0.1 0.6,0.3 V0.7 C0.6,1.1 0,1.1 0,0.7 Z"/>
<path vector-effect="non-scaling-stroke" transform="translate(164.00,530.00) scale(12.571,12.400)" d="M0.22,0 V0.85 L0.35,1 L0.62,0.8 M0,0.35 H0.7"/>
<path vector-effect="non-scaling-stroke" transform="translate(176.00,530.00) scale(12.329,12.400)" d="M0,0 V1 M0,0.55 C0.05,0.33 0.7,0.28 0.72,0.52 V1"/>
<path vector-effect="non-scaling-stroke" transform="translate(187.70,530.00) scale(12.400,12.400)" d="M0.05,0 V0.12 M0.05,0.33 V1"/>
<path vector-effect="non-scaling-stroke" transform="translate(192.20,530.00) scale(12.429,12.400)" d="M0.7,0.34 H0.2 C0,0.34 0,0.4 0,0.6 V0.75 C0,1 0,1 0.2,1 H0.7"/>
<path vector-effect="non-scaling-stroke" transform="translate(204.20,530.00) scale(12.394,12.400)" d="M0,0 V1 M0.68,0.34 L0,0.74 M0.24,0.6 L0.71,1"/>
</g>
<circle cx="610.5" cy="192.3" r="54" fill="none" stroke="#000" stroke-width="1.25" stroke-dasharray="2.6 0.9"/>
<path d="M604.42 141.77 L616.58 141.77 L651.22 161.77 L657.3 172.31 L657.3 212.29 L651.22 222.83 L616.58 242.83 L604.42 242.83 L569.78 222.83 L563.7 212.29 L563.7 172.31 L569.78 161.77 Z" fill="none" stroke="#222" stroke-width="0.9" />
<circle cx="610.5" cy="192.3" r="46.3" fill="none" stroke="#666" stroke-width="3.0" stroke-dasharray="1.2 0.6"/>
<circle cx="610.5" cy="192.3" r="47.9" fill="none" stroke="#111" stroke-width="0.8"/>
<circle cx="610.5" cy="192.3" r="44.7" fill="none" stroke="#000" stroke-width="1.1"/>
<circle cx="610.5" cy="192.3" r="40.2" fill="none" stroke="#000" stroke-width="1.3"/>
<path d="M610.5 111.3 V174.4 M610.5 186 V198.6 M610.5 210.2 V272 M531 192.3 H593 M604.2 192.3 H616.9 M628 192.3 H689.5" fill="none" stroke="#000" stroke-width="1.05" />
<rect x="627.5" y="552.5" width="368" height="144" fill="none" stroke="#000" stroke-width="1.1" />
<line x1="627" y1="587.5" x2="996" y2="587.5" stroke="#000" stroke-width="1.1" />
<line x1="627" y1="644.5" x2="996" y2="644.5" stroke="#000" stroke-width="1.1" />
<line x1="848.8" y1="587.5" x2="848.8" y2="644.5" stroke="#000" stroke-width="1.1" />
<line x1="929.5" y1="587.5" x2="929.5" y2="644.5" stroke="#000" stroke-width="1.1" />
<line x1="848.8" y1="606.8" x2="996" y2="606.8" stroke="#000" stroke-width="1.1" />
<line x1="848.8" y1="625.8" x2="996" y2="625.8" stroke="#000" stroke-width="1.1" />
<line x1="805.6" y1="644.5" x2="805.6" y2="696" stroke="#000" stroke-width="1.1" />
<circle cx="651.4" cy="572.2" r="11.5" fill="#000"/>
<path d="M643.5 567.2 Q650 566 658 567.3" fill="none" stroke="#333" stroke-width="0.5" />
<path fill="#000" fill-rule="evenodd" d="M672.2 563.4 H676.6 V576.7 H687 V581.1 H674.4 Q672.2 581.1 672.2 578.9 Z M687 581.1 L696.4 563.4 H701.2 L710.6 581.1 H705.6 L698.8 568.3 L692 581.1 Z M712 581.1 V563.4 H716.4 L722.4 573.4 V563.4 H726.8 V581.1 H722.4 L716.4 571.1 V581.1 Z M729.8 563.4 H740.3 Q745.1 563.4 745.1 567.8 Q745.1 570.6 743.1 572 Q746.1 573.4 746.1 576.7 Q746.1 581.1 741.2 581.1 H729.8 Z M734.2 567.4 H739.6 Q740.9 567.4 740.9 568.6 Q740.9 569.9 739.6 569.9 H734.2 Z M734.2 574.2 H740.1 Q741.7 574.2 741.7 575.7 Q741.7 577.2 740.1 577.2 H734.2 Z M746 581.1 L752.6 563.4 H757.2 L763.7 581.1 H759.1 L754.9 569.6 L750.6 581.1 Z"/>
<ellipse cx="771.1" cy="572.25" rx="5.5" ry="6.9" fill="none" stroke="#000" stroke-width="3.9"/>
<text transform="translate(839.5,568.4) scale(0.8,1)" x="3.22 10.78 18.35 25.92 33.49 41.05 48.62 56.19 63.75 71.32 78.89 86.46 94.02 101.59 109.16" y="0" font-family="Liberation Serif" font-size="12.06" font-weight="normal" fill="#000" stroke="#000" stroke-width="0.2" text-anchor="middle" xml:space="preserve">www.shlanbao.cn</text>
<text transform="translate(784.3,581.6) scale(0.74,1)" x="2.39 8.75 15.12 21.49 27.85 34.22 40.59 46.95 53.32 59.68 66.05 72.42 78.78 85.15 91.52 97.88 104.25 110.62 116.98 123.35 129.71 136.08 142.45 148.81 155.18 161.55 167.91 174.28 180.65 187.01 193.38 199.74 206.11 212.48 218.84 225.21 231.58 237.94 244.31 250.68 257.04 263.41 269.77" y="0" font-family="Liberation Serif" font-size="10.38" font-weight="normal" fill="#111" stroke="#111" stroke-width="0.05" text-anchor="middle" xml:space="preserve">Shanghai Lanbao Sensing Technology Co.,Ltd.</text>
<text transform="translate(638,605.8) scale(0.72,1)" x="3.65 12.24 20.83 29.42 38.02" y="0" font-family="Liberation Serif" font-size="11.91" font-weight="normal" fill="#000" stroke="#000" stroke-width="0.3" text-anchor="middle" xml:space="preserve">TITLE</text>
<text transform="translate(687.3,628.8) scale(0.84,1)" x="7.36 22.84 38.32 53.81 69.29 84.78 100.26" y="0" font-family="Liberation Serif" font-size="26.56" font-weight="normal" fill="#000" stroke="#000" stroke-width="0.15" text-anchor="middle" xml:space="preserve">CR30SCN</text>
<text transform="translate(873.5,602.4) scale(0.64,1)" x="4.16 13.96 23.75 33.54 43.34" y="0" font-family="Liberation Serif" font-size="13.28" font-weight="normal" fill="#000" stroke="#000" stroke-width="0.3" text-anchor="middle" xml:space="preserve">SCALE</text>
<text transform="translate(956.5,602.4) scale(0.64,1)" x="2.54 11.02 19.49" y="0" font-family="Liberation Serif" font-size="13.28" font-weight="normal" fill="#000" stroke="#000" stroke-width="0.3" text-anchor="middle" xml:space="preserve">1:1</text>
<text transform="translate(858,621.9) scale(0.6,1)" x="4.31 14.47 24.62 34.77 44.92 55.08 65.23 75.38 85.53 95.69" y="0" font-family="Liberation Serif" font-size="13.44" font-weight="normal" fill="#000" stroke="#000" stroke-width="0.3" text-anchor="middle" xml:space="preserve">DIMENSIONS</text>
<text transform="translate(935.5,621.5) scale(0.7,1)" x="2.65 10.22 17.79 25.36 32.93 40.5 48.07 55.64 63.21 70.78 78.35" y="0" font-family="Liberation Serif" font-size="10.69" font-weight="normal" fill="#000" stroke="#000" stroke-width="0.3" text-anchor="middle" xml:space="preserve">millimeters</text>
<text transform="translate(858,641) scale(0.6,1)" x="3.01 13.04 23.07 33.1 43.14 53.17 63.2 73.23 83.26 93.29 103.32" y="0" font-family="Liberation Serif" font-size="13.44" font-weight="normal" fill="#000" stroke="#000" stroke-width="0.3" text-anchor="middle" xml:space="preserve">DRAWING NO.</text>
<text transform="translate(945.7,639.5) scale(0.74,1)" x="2.93 9.81 16.69 23.58 30.46 37.34" y="0" font-family="Liberation Serif" font-size="11.45" font-weight="normal" fill="#000" stroke="#000" stroke-width="0.3" text-anchor="middle" xml:space="preserve">180825</text>
<text transform="translate(649,673.7) scale(0.62,1)" x="3.93 13.76 23.58 33.41 43.23 53.06 62.88 72.71 82.53 92.36 102.18 112.01 121.83 131.66 141.49 151.31 161.14 170.96 180.79 190.61 200.44 210.26" y="0" font-family="Liberation Serif" font-size="13.44" font-weight="normal" fill="#111" stroke="#111" stroke-width="0.15" text-anchor="middle" xml:space="preserve">FIRST ANGLE PROJECTION</text>
<path d="M856.3 656.4 L895.6 653.4 L895.6 684.7 L856.3 681.5 Z" fill="none" stroke="#000" stroke-width="1.05" />
<path d="M853 669.6 H861.8 M863.1 669.6 H864.8 M866 669.6 H877.8 M879.1 669.6 H880.8 M881.9 669.6 H902.6" fill="none" stroke="#000" stroke-width="1.05" />
<circle cx="949.3" cy="669.6" r="15.6" fill="none" stroke="#000" stroke-width="1.05"/>
<circle cx="949.3" cy="669.6" r="13" fill="none" stroke="#000" stroke-width="1.05"/>
<path d="M932.1 669.6 H936.8 M938.6 669.6 H940.8 M942.8 669.6 H945 M947 669.6 H952 M953.8 669.6 H956 M958 669.6 H960.2 M962 669.6 H966 M949.3 652 V656.8 M949.3 658.6 V660.8 M949.3 662.8 V665 M949.3 667 V672.2 M949.3 674 V676.2 M949.3 678.2 V680.4 M949.3 682.2 V685.8" fill="none" stroke="#000" stroke-width="1.05" />
<text transform="translate(64,632) scale(0.76,1)" x="6.25 20.15 34.04 47.93 61.83 75.72" y="0" font-family="Liberation Serif" font-size="21.68" font-weight="normal" fill="#000" stroke="#000" stroke-width="0.45" text-anchor="middle" xml:space="preserve">NOTES:</text>
<text transform="translate(64.3,652.2) scale(0.62,1)" x="2.44 12.19 21.95 31.71 41.46 51.22 60.97 70.73 80.49 90.24 100 109.75 119.51 129.27 139.02 148.78 158.53 168.29 178.04 187.8 197.56 207.31 217.07 226.82 236.58 246.34 256.09 265.85 275.6 285.36 295.12 304.87 314.63 324.38 334.14 343.89 353.65 363.41 373.16 382.92 392.67 402.43 412.19 421.94 431.7 441.45 451.21 460.97 470.72 480.48 490.23 499.99 509.74 519.5 529.26 539.01" y="0" font-family="Liberation Serif" font-size="12.82" font-weight="normal" fill="#1a1a1a" stroke="#1a1a1a" stroke-width="0.08" text-anchor="middle" xml:space="preserve">1.ALL DIMENSIONS ARE MILLIMETERS UNLESS OTHERWISE NOTED.</text>
<text transform="translate(64.3,668.5) scale(0.64,1)" x="2.37 11.87 21.36 30.85 40.35 49.84 59.33 68.82 78.32 87.81 97.3 106.8 116.29 125.78 135.28 144.77 154.26 163.76 173.25 182.74 192.23 201.73 211.22 220.71 230.21 239.7 249.19 258.69 268.18 277.67 287.16 296.66 306.15 315.64 325.14 334.63 344.12 353.62 363.11 372.6 382.1 391.59 401.08 410.57 420.07 429.56 439.05 448.55 458.04 467.53 477.03 486.52 496.01 505.51 515 524.49 533.98 543.48 552.97 562.46 571.96 581.45 590.94 600.44 609.93 619.42 628.91 638.41" y="0" font-family="Liberation Serif" font-size="12.82" font-weight="normal" fill="#1a1a1a" stroke="#1a1a1a" stroke-width="0.08" text-anchor="middle" xml:space="preserve">2.REFER TO ″www.shlanbao.cn″ FOR ADDITIONAL DATA AND SPECIFICATIONS.</text>
<text transform="translate(64.3,684.2) scale(0.7,1)" x="2.17 10.85 19.52 28.2 36.88 45.56 54.23 62.91 71.59 80.26 88.94 97.62 106.3 114.97 123.65 132.33 141.01 149.68 158.36 167.04 175.71 184.39 193.07 201.75 210.42 219.1 227.78 236.46 245.13 253.81 262.49 271.16 279.84 288.52 297.2 305.87 314.55 323.23 331.9 340.58 349.26" y="0" font-family="Liberation Serif" font-size="12.82" font-weight="normal" fill="#1a1a1a" stroke="#1a1a1a" stroke-width="0.08" text-anchor="middle" xml:space="preserve">3.This drawing is the property of LANBAO.</text>
<g transform="translate(899.5,260.5) rotate(41.4)"><g transform="translate(-3.7,5.65)">
<path d="M-225.65 -7.29 L-190.91 -7.29 A4.13 7.29 0 0 1 -190.91 7.29 L-225.65 7.29 A4.13 7.29 0 0 1 -225.65 -7.29 Z" fill="#fff" stroke="#000" stroke-width="1.0"/>
<path d="M-190.91 -10.94 L-183.3 -10.94 A6.2 10.94 0 0 1 -183.3 10.94 L-190.91 10.94 A6.2 10.94 0 0 1 -190.91 -10.94 Z" fill="#fff" stroke="#000" stroke-width="1.0"/>
<path d="M-187.71 -10.94 A6.2 10.94 0 0 0 -187.71 10.94" fill="none" stroke="#000" stroke-width="0.7"/>
<path d="M-183.3 -9.72 L-149.63 -9.72 A5.51 9.72 0 0 1 -149.63 9.72 L-183.3 9.72 A5.51 9.72 0 0 1 -183.3 -9.72 Z" fill="#fff" stroke="#000" stroke-width="1.0"/>
</g>
<path d="M-146.63 -33.62 L-120.91 -33.62 A19.06 33.62 0 0 1 -120.91 33.62 L-146.63 33.62 A19.06 33.62 0 0 1 -146.63 -33.62 Z" fill="#fff" stroke="#000" stroke-width="1.0"/>
<path d="M-144.82 -33.62 A19.06 33.62 0 0 0 -144.82 33.62" fill="none" stroke="#000" stroke-width="0.8"/>
<path d="M-136.61 -33.62 A19.06 33.62 0 0 0 -136.61 33.62" fill="none" stroke="#000" stroke-width="0.8"/>
<path d="M-134.6 -33.62 A19.06 33.62 0 0 0 -134.6 33.62" fill="none" stroke="#000" stroke-width="0.8"/>
<path d="M-120.91 -36.45 L-90.85 -36.45 A20.67 36.45 0 0 1 -90.85 36.45 L-120.91 36.45 A20.67 36.45 0 0 1 -120.91 -36.45 Z" fill="#fff" stroke="#000" stroke-width="1.0"/>
<path d="M-118.4 -36.45 A20.67 36.45 0 0 0 -118.4 36.45" fill="none" stroke="#000" stroke-width="1.25"/>
<path d="M-115.9 -36.45 A20.67 36.45 0 0 0 -115.9 36.45" fill="none" stroke="#000" stroke-width="1.25"/>
<path d="M-113.39 -36.45 A20.67 36.45 0 0 0 -113.39 36.45" fill="none" stroke="#000" stroke-width="1.25"/>
<path d="M-110.89 -36.45 A20.67 36.45 0 0 0 -110.89 36.45" fill="none" stroke="#000" stroke-width="1.25"/>
<path d="M-108.38 -36.45 A20.67 36.45 0 0 0 -108.38 36.45" fill="none" stroke="#000" stroke-width="1.25"/>
<path d="M-105.88 -36.45 A20.67 36.45 0 0 0 -105.88 36.45" fill="none" stroke="#000" stroke-width="1.25"/>
<path d="M-103.37 -36.45 A20.67 36.45 0 0 0 -103.37 36.45" fill="none" stroke="#000" stroke-width="1.25"/>
<path d="M-100.87 -36.45 A20.67 36.45 0 0 0 -100.87 36.45" fill="none" stroke="#000" stroke-width="1.25"/>
<path d="M-98.36 -36.45 A20.67 36.45 0 0 0 -98.36 36.45" fill="none" stroke="#000" stroke-width="1.25"/>
<path d="M-95.86 -36.45 A20.67 36.45 0 0 0 -95.86 36.45" fill="none" stroke="#000" stroke-width="1.25"/>
<path d="M-93.35 -36.45 A20.67 36.45 0 0 0 -93.35 36.45" fill="none" stroke="#000" stroke-width="1.25"/>
<path d="M-90.85 41.72 L-111.33 20.86 L-96.3 20.86 L-75.82 41.72 Z" fill="#fff" stroke="#000" stroke-width="0.9"/>
<path d="M-111.33 20.86 L-111.33 -20.86 L-96.3 -20.86 L-96.3 20.86 Z" fill="#fff" stroke="#000" stroke-width="0.9"/>
<path d="M-111.33 -20.86 L-90.85 -41.72 L-75.82 -41.72 L-96.3 -20.86 Z" fill="#fff" stroke="#000" stroke-width="0.9"/>
<path d="M-70.36 -20.86 L-70.36 20.86 L-55.33 20.86 L-55.33 -20.86 Z" fill="#fff" stroke="#000" stroke-width="0.9"/>
<path d="M-55.33 20.86 L-75.82 41.72 L-96.3 20.86 L-96.3 -20.86 L-75.82 -41.72 L-55.33 -20.86 Z" fill="#fff" stroke="#000" stroke-width="0.9"/>
<path d="M-75.82 -43.98 L-67.33 -43.98 A24.94 43.98 0 0 1 -67.33 43.98 L-75.82 43.98 A24.94 43.98 0 0 1 -75.82 -43.98 Z" fill="#fff" stroke="#000" stroke-width="1.0"/>
<path d="M-75.82 43.98 L-67.33 43.98 M-77.99 43.82 L-69.51 43.82 M-80.15 43.31 L-71.66 43.31 M-82.27 42.48 L-73.79 42.48 M-84.35 41.33 L-75.86 41.33 M-86.36 39.86 L-77.87 39.86 M-88.29 38.09 L-79.8 38.09 M-90.12 36.03 L-81.64 36.03 M-91.85 33.69 L-83.36 33.69 M-93.45 31.1 L-84.97 31.1 M-94.92 28.27 L-86.44 28.27 M-96.25 25.23 L-87.76 25.23 M-97.42 21.99 L-88.93 21.99 M-98.42 18.59 L-89.94 18.59 M-99.25 15.04 L-90.77 15.04 M-99.91 11.38 L-91.42 11.38 M-100.38 7.64 L-91.89 7.64 M-100.66 3.83 L-92.18 3.83 M-100.76 0 L-92.27 0 M-100.66 -3.83 L-92.18 -3.83 M-100.38 -7.64 L-91.89 -7.64 M-99.91 -11.38 L-91.42 -11.38 M-99.25 -15.04 L-90.77 -15.04 M-98.42 -18.59 L-89.94 -18.59 M-97.42 -21.99 L-88.93 -21.99 M-96.25 -25.23 L-87.76 -25.23 M-94.92 -28.27 L-86.44 -28.27 M-93.45 -31.1 L-84.97 -31.1 M-91.85 -33.69 L-83.36 -33.69 M-90.12 -36.03 L-81.64 -36.03 M-88.29 -38.09 L-79.8 -38.09 M-86.36 -39.86 L-77.87 -39.86 M-84.35 -41.33 L-75.86 -41.33 M-82.27 -42.48 L-73.79 -42.48 M-80.15 -43.31 L-71.66 -43.31 M-77.99 -43.82 L-69.51 -43.82 M-75.82 -43.98 L-67.33 -43.98" stroke="#000" stroke-width="1.35" fill="none"/>
<path d="M-67.33 -43.98 A24.94 43.98 0 0 0 -67.33 43.98 A24.94 43.98 0 0 0 -67.33 -43.98 Z M-67.33 -37.26 A21.13 37.26 0 0 1 -67.33 37.26 A21.13 37.26 0 0 1 -67.33 -37.26 Z" fill="#fff" stroke="#000" stroke-width="0.9" fill-rule="evenodd"/>
<path d="M-67.33 -36.45 L-61.79 -36.45 A20.67 36.45 0 0 1 -61.79 36.45 L-67.33 36.45 A20.67 36.45 0 0 1 -67.33 -36.45 Z" fill="#fff" stroke="#000" stroke-width="1.0"/>
<path d="M-65.49 -36.45 A20.67 36.45 0 0 0 -65.49 36.45" fill="none" stroke="#000" stroke-width="0.95"/>
<path d="M-63.64 -36.45 A20.67 36.45 0 0 0 -63.64 36.45" fill="none" stroke="#000" stroke-width="0.95"/>
<path d="M-61.79 -43.98 L-53.91 -43.98 A24.94 43.98 0 0 1 -53.91 43.98 L-61.79 43.98 A24.94 43.98 0 0 1 -61.79 -43.98 Z" fill="#fff" stroke="#000" stroke-width="1.0"/>
<path d="M-61.79 43.98 L-53.91 43.98 M-63.96 43.82 L-56.08 43.82 M-66.12 43.31 L-58.24 43.31 M-68.24 42.48 L-60.36 42.48 M-70.32 41.33 L-62.44 41.33 M-72.33 39.86 L-64.45 39.86 M-74.26 38.09 L-66.38 38.09 M-76.09 36.03 L-68.21 36.03 M-77.82 33.69 L-69.94 33.69 M-79.42 31.1 L-71.54 31.1 M-80.89 28.27 L-73.01 28.27 M-82.22 25.23 L-74.34 25.23 M-83.39 21.99 L-75.5 21.99 M-84.39 18.59 L-76.51 18.59 M-85.22 15.04 L-77.34 15.04 M-85.88 11.38 L-78 11.38 M-86.35 7.64 L-78.47 7.64 M-86.63 3.83 L-78.75 3.83 M-86.73 0 L-78.85 0 M-86.63 -3.83 L-78.75 -3.83 M-86.35 -7.64 L-78.47 -7.64 M-85.88 -11.38 L-78 -11.38 M-85.22 -15.04 L-77.34 -15.04 M-84.39 -18.59 L-76.51 -18.59 M-83.39 -21.99 L-75.5 -21.99 M-82.22 -25.23 L-74.34 -25.23 M-80.89 -28.27 L-73.01 -28.27 M-79.42 -31.1 L-71.54 -31.1 M-77.82 -33.69 L-69.94 -33.69 M-76.09 -36.03 L-68.21 -36.03 M-74.26 -38.09 L-66.38 -38.09 M-72.33 -39.86 L-64.45 -39.86 M-70.32 -41.33 L-62.44 -41.33 M-68.24 -42.48 L-60.36 -42.48 M-66.12 -43.31 L-58.24 -43.31 M-63.96 -43.82 L-56.08 -43.82 M-61.79 -43.98 L-53.91 -43.98" stroke="#000" stroke-width="1.35" fill="none"/>
<path d="M-53.91 -43.98 A24.94 43.98 0 0 0 -53.91 43.98 A24.94 43.98 0 0 0 -53.91 -43.98 Z M-53.91 -37.26 A21.13 37.26 0 0 1 -53.91 37.26 A21.13 37.26 0 0 1 -53.91 -37.26 Z" fill="#fff" stroke="#000" stroke-width="0.9" fill-rule="evenodd"/>
<path d="M-53.91 41.72 L-74.39 20.86 L-67.24 20.86 L-46.76 41.72 Z" fill="#fff" stroke="#000" stroke-width="0.9"/>
<path d="M-74.39 20.86 L-74.39 -20.86 L-67.24 -20.86 L-67.24 20.86 Z" fill="#fff" stroke="#000" stroke-width="0.9"/>
<path d="M-74.39 -20.86 L-53.91 -41.72 L-46.76 -41.72 L-67.24 -20.86 Z" fill="#fff" stroke="#000" stroke-width="0.9"/>
<path d="M-33.42 -20.86 L-33.42 20.86 L-26.28 20.86 L-26.28 -20.86 Z" fill="#fff" stroke="#000" stroke-width="0.9"/>
<path d="M-26.28 20.86 L-46.76 41.72 L-67.24 20.86 L-67.24 -20.86 L-46.76 -41.72 L-26.28 -20.86 Z" fill="#fff" stroke="#000" stroke-width="0.9"/>
<path d="M-46.76 -36.45 L-24.38 -36.45 A20.67 36.45 0 0 1 -24.38 36.45 L-46.76 36.45 A20.67 36.45 0 0 1 -46.76 -36.45 Z" fill="#fff" stroke="#000" stroke-width="1.0"/>
<path d="M-44.27 -36.45 A20.67 36.45 0 0 0 -44.27 36.45" fill="none" stroke="#000" stroke-width="1.2"/>
<path d="M-41.79 -36.45 A20.67 36.45 0 0 0 -41.79 36.45" fill="none" stroke="#000" stroke-width="1.2"/>
<path d="M-39.3 -36.45 A20.67 36.45 0 0 0 -39.3 36.45" fill="none" stroke="#000" stroke-width="1.2"/>
<path d="M-36.81 -36.45 A20.67 36.45 0 0 0 -36.81 36.45" fill="none" stroke="#000" stroke-width="1.2"/>
<path d="M-34.33 -36.45 A20.67 36.45 0 0 0 -34.33 36.45" fill="none" stroke="#000" stroke-width="1.2"/>
<path d="M-31.84 -36.45 A20.67 36.45 0 0 0 -31.84 36.45" fill="none" stroke="#000" stroke-width="1.2"/>
<path d="M-29.35 -36.45 A20.67 36.45 0 0 0 -29.35 36.45" fill="none" stroke="#000" stroke-width="1.2"/>
<path d="M-26.87 -36.45 A20.67 36.45 0 0 0 -26.87 36.45" fill="none" stroke="#000" stroke-width="1.2"/>
<path d="M-24.38 -32.08 L0 -32.08 A18.19 32.08 0 0 1 0 32.08 L-24.38 32.08 A18.19 32.08 0 0 1 -24.38 -32.08 Z" fill="#fff" stroke="#000" stroke-width="1.0"/>
<ellipse cx="0" cy="0" rx="18.19" ry="32.08" fill="#fff" stroke="#000" stroke-width="1.0"/></g>
</svg></body></html>
